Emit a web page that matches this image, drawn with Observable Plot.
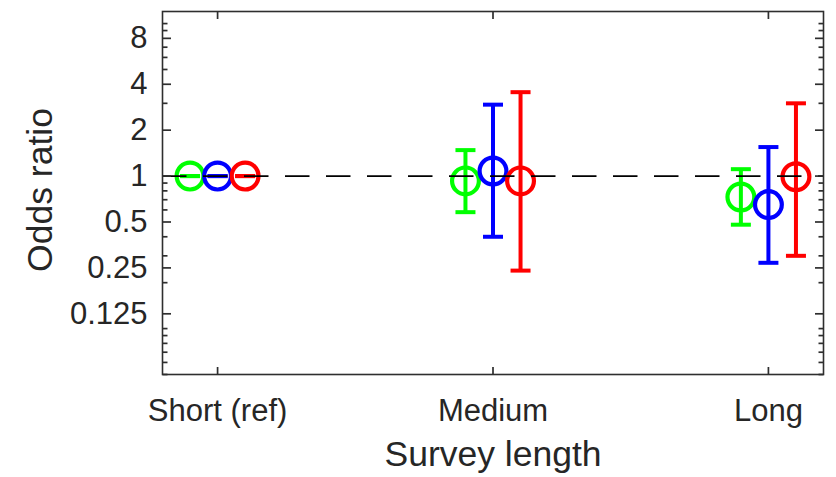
<!DOCTYPE html>
<html>
<head>
<meta charset="utf-8">
<script src="https://cdn.jsdelivr.net/npm/d3@7"></script>
<script src="https://cdn.jsdelivr.net/npm/@observablehq/plot@0.6"></script>
<style>
  html, body { margin: 0; padding: 0; background: #fff; }
  svg { display: block; }
</style>
</head>
<body>
<div id="chart"></div>
<script>
// Categories (x axis)
const categories = ["Short (ref)", "Medium", "Long"];

// Three series (green, blue, red): odds ratio and 95% CI per category
const seriesColors = ["#00ff00", "#0000ff", "#ff0000"];
const greenOR = [1, 0.93, 0.73];
const greenLo = [1, 0.58, 0.48];
const greenHi = [1, 1.48, 1.11];
const blueOR  = [1, 1.08, 0.65];
const blueLo  = [1, 0.40, 0.27];
const blueHi  = [1, 2.94, 1.55];
const redOR   = [1, 0.93, 0.99];
const redLo   = [1, 0.24, 0.30];
const redHi   = [1, 3.55, 3.00];

// Y tick values and labels
const yTicks = [0.125, 0.25, 0.5, 1, 2, 4, 8];
const yTickLabels = ["0.125", "0.25", "0.5", "1", "2", "4", "8"];

const xLabel = "Survey length";
const yLabel = "Odds ratio";

// ---- build table ----
const seriesOR = [greenOR, blueOR, redOR];
const seriesLo = [greenLo, blueLo, redLo];
const seriesHi = [greenHi, blueHi, redHi];
const dodge = [-0.1, 0, 0.1];
const rows = [];
seriesOR.forEach((vals, s) => {
  vals.forEach((v, c) => {
    rows.push({x: c + dodge[s], or: v, lo: seriesLo[s][c], hi: seriesHi[s][c], color: seriesColors[s]});
  });
});
const yTickRows = yTicks.map((v, i) => ({v, label: yTickLabels[i]}));

const yDomain = [0.05, 12];
const minorTicks = d3.scaleLog().domain(yDomain).ticks()
  .filter(t => !yTicks.some(m => Math.abs(m - t) < 1e-9));

// symbols: horizontal cap, and inward tick marks
const capSymbol = {
  draw(context, size) {
    const w = Math.sqrt(size / Math.PI);
    context.moveTo(-w, 0);
    context.lineTo(w, 0);
  }
};
const tickSym = (dx, dy) => ({
  draw(context, size) {
    const w = Math.sqrt(size / Math.PI);
    context.moveTo(0, 0);
    context.lineTo(dx * w, dy * w);
  }
});

const axisColor = "#2e2e2e";
const textColor = "#262626";
const catIdx = categories.map((_, i) => i);
const tickStyle = {stroke: axisColor, strokeWidth: 1.7, fill: "none"};

const chart = Plot.plot({
  width: 836,
  height: 477,
  marginLeft: 162,
  marginRight: 13,
  marginTop: 11,
  marginBottom: 103,
  style: {fontFamily: "'Liberation Sans', Arial, Helvetica, sans-serif", color: textColor, background: "#fff"},
  x: {type: "linear", domain: [-0.2, 2.2], axis: null},
  y: {type: "log", domain: yDomain, axis: null},
  color: {type: "identity"},
  marks: [
    // error bars
    Plot.ruleX(rows, {x: "x", y1: "lo", y2: "hi", stroke: "color", strokeWidth: 4}),
    Plot.dot(rows, {x: "x", y: "hi", symbol: capSymbol, r: 10, stroke: "color", strokeWidth: 4, fill: "none"}),
    Plot.dot(rows, {x: "x", y: "lo", symbol: capSymbol, r: 10, stroke: "color", strokeWidth: 4, fill: "none"}),
    // point estimates
    Plot.dot(rows, {x: "x", y: "or", r: 13.4, stroke: "color", strokeWidth: 4.2, fill: "none"}),
    // reference line
    Plot.ruleY([1], {stroke: "#000", strokeWidth: 1.6, strokeDasharray: "24.5,16.5"}),
    // frame
    Plot.frame({stroke: axisColor, strokeWidth: 1.6}),
    // y ticks inward (major + minor, left + right)
    Plot.dot(yTicks, {y: d => d, frameAnchor: "left", symbol: tickSym(1, 0), r: 8.5, ...tickStyle}),
    Plot.dot(yTicks, {y: d => d, frameAnchor: "right", symbol: tickSym(-1, 0), r: 8.5, ...tickStyle}),
    Plot.dot(minorTicks, {y: d => d, frameAnchor: "left", symbol: tickSym(1, 0), r: 5, ...tickStyle}),
    Plot.dot(minorTicks, {y: d => d, frameAnchor: "right", symbol: tickSym(-1, 0), r: 5, ...tickStyle}),
    // x ticks inward (bottom + top)
    Plot.dot(catIdx, {x: d => d, frameAnchor: "bottom", symbol: tickSym(0, -1), r: 7.5, ...tickStyle}),
    Plot.dot(catIdx, {x: d => d, frameAnchor: "top", symbol: tickSym(0, 1), r: 7.5, ...tickStyle}),
    // y tick labels
    Plot.text(yTickRows, {y: "v", text: "label", frameAnchor: "left", textAnchor: "end", lineAnchor: "middle",
      dx: -15, fontSize: 31, fill: textColor}),
    // x tick labels
    Plot.text(catIdx, {x: d => d, text: d => categories[d], frameAnchor: "bottom", textAnchor: "middle", lineAnchor: "top",
      dy: 24.5, fontSize: 31, fill: textColor}),
    // axis titles
    Plot.text([xLabel], {frameAnchor: "bottom", lineAnchor: "middle", textAnchor: "middle", dy: 80, fontSize: 35.5, fill: textColor}),
    Plot.text([yLabel], {frameAnchor: "left", lineAnchor: "middle", textAnchor: "middle", dx: -122, dy: -3, rotate: -90, fontSize: 35.5, fill: textColor})
  ]
});
document.getElementById("chart").appendChild(chart);
</script>
</body>
</html>
